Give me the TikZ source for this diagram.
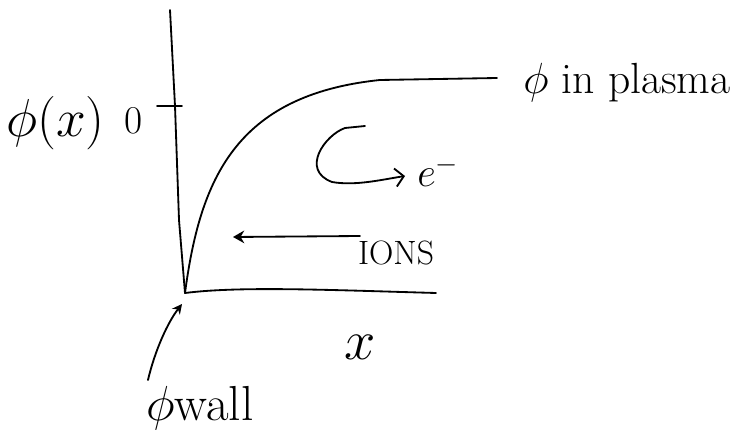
\RequirePackage{fix-cm}
\documentclass[tikz,border=0pt]{standalone}
\usetikzlibrary{arrows.meta}
\tikzset{
  stroke/.style={line width=1.3pt, draw=black, line cap=round, line join=round},
  txt/.style={inner sep=0pt, font=\fontsize{31}{36}\selectfont},
  smalltxt/.style={inner sep=0pt, font=\fontsize{24}{28}\selectfont},
}

\begin{document}
\begin{tikzpicture}[x=0.025cm, y=-0.025cm]
\useasboundingbox (0,0) rectangle (748,444);
\coordinate (origin) at (185,293);
\coordinate (ytop) at (170,10);
\coordinate (xend) at (436,293);
\coordinate (tickl) at (157,106);
\coordinate (tickr) at (182,106);
\coordinate (knee) at (380,80);
\coordinate (flat) at (497,78);
\coordinate (ionsfrom) at (360,236);
\coordinate (ionsto) at (233,237);
\coordinate (loopstart) at (365,126);
\coordinate (looptip) at (405,176);
\coordinate (walltail) at (148,380);
\coordinate (walltip) at (182,304);
\node[txt, anchor=base west, font=\fontsize{38}{44}\selectfont] (phix) at (6,137) {$\phi(x)$};
\node[smalltxt, font=\fontsize{28}{32}\selectfont] (zero) at (134,121) {0};
\node[txt, anchor=base west] (plasma) at (523,94) {$\phi$ in plasma};
\node[txt, anchor=base, font=\fontsize{29}{34}\selectfont] (elec) at (438,187) {$e^-$};
\node[smalltxt] (ions) at (396,253) {IONS};
\node[txt, font=\fontsize{40}{44}\selectfont] (xlab) at (360,347) {$x$};
\node[txt, anchor=base west, font=\fontsize{35}{40}\selectfont] (wall) at (146,420) {$\phi$wall};
\draw[stroke] (ytop) -- (175,106) -- (179,220) -- (origin);
\draw[stroke] (tickl) -- (tickr);
\draw[stroke] (origin) .. controls (240,286) and (330,290) .. (xend);
\draw[stroke] (origin) .. controls (200,180) and (235,95) .. (knee) -- (flat);
\draw[stroke, -{Straight Barb[length=6pt, width=13pt]}] (loopstart) -- (345,128) .. controls (325,135) and (300,170) .. (332,182) .. controls (355,186) and (380,180) .. (looptip);
\draw[stroke, -{Stealth[length=8pt, width=9pt]}] (ionsfrom) -- (ionsto);
\draw[stroke, -{Stealth[length=7pt, width=7pt]}] (walltail) .. controls (155,350) and (168,322) .. (walltip);
\end{tikzpicture}
\end{document}
